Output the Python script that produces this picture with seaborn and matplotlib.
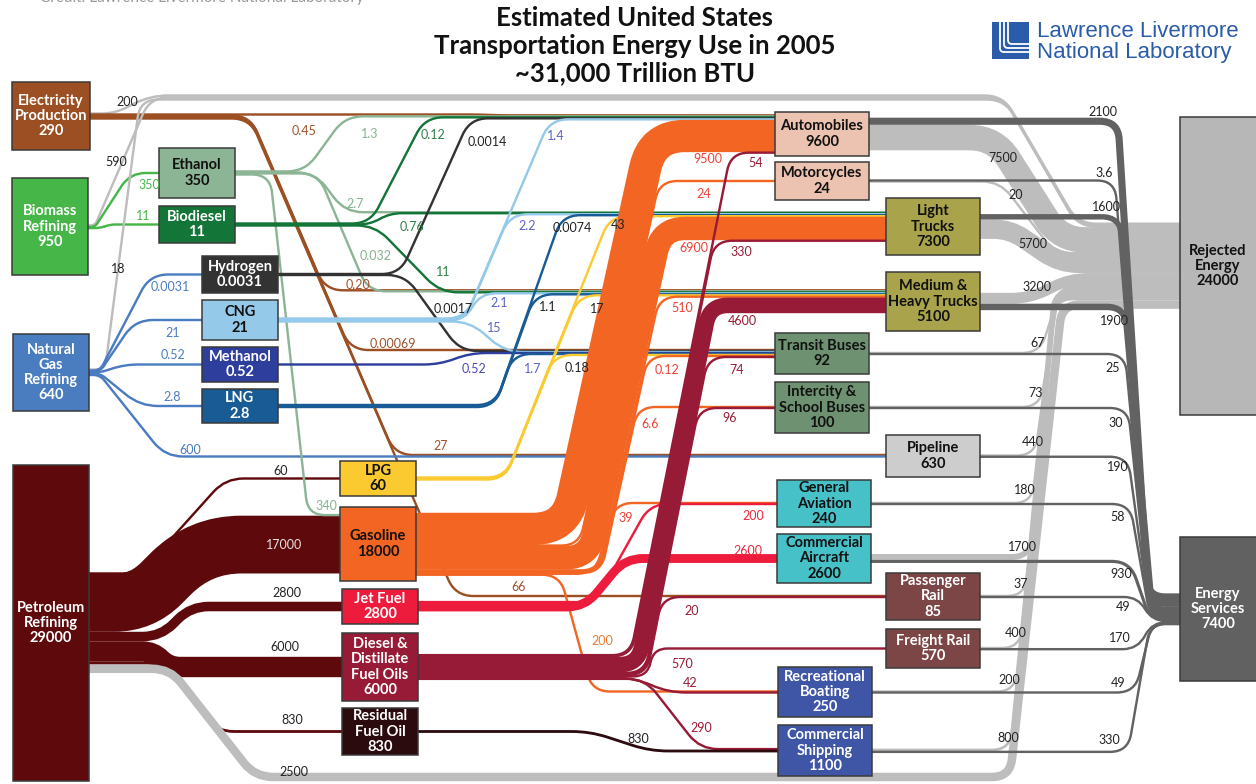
import numpy as np
import matplotlib
matplotlib.use("Agg")
import matplotlib.pyplot as plt
from matplotlib.path import Path
from matplotlib.patches import PathPatch, Rectangle
import seaborn as sns

# Plot setup
sns.set_theme(style="white")
plt.rcParams['font.family'] = ['Lato', 'DejaVu Sans']

# ------------------------------------------------------------------
# Data: energy flows in trillion BTU (LLNL transportation chart 2005)
# ------------------------------------------------------------------
node_keys = ["elec", "bio", "ng", "pet", "eth", "biod", "h2", "cng", "meoh", "lng",
             "lpg", "gas", "jet", "dsl", "res", "auto", "moto", "lt", "mht", "tbus",
             "ibus", "pipe", "ga", "ca", "prail", "frail", "boat", "ship", "rej", "serv"]
node_names = ["Electricity\nProduction", "Biomass\nRefining", "Natural\nGas\nRefining",
              "Petroleum\nRefining", "Ethanol", "Biodiesel", "Hydrogen", "CNG", "Methanol",
              "LNG", "LPG", "Gasoline", "Jet Fuel", "Diesel &\nDistillate\nFuel Oils",
              "Residual\nFuel Oil", "Automobiles", "Motorcycles", "Light\nTrucks",
              "Medium &\nHeavy Trucks", "Transit Buses", "Intercity &\nSchool Buses",
              "Pipeline", "General\nAviation", "Commercial\nAircraft", "Passenger\nRail",
              "Freight Rail", "Recreational\nBoating", "Commercial\nShipping",
              "Rejected\nEnergy", "Energy\nServices"]
node_values = ["290", "950", "640", "29000", "350", "11", "0.0031", "21", "0.52", "2.8",
               "60", "18000", "2800", "6000", "830", "9600", "24", "7300", "5100", "92",
               "100", "630", "240", "2600", "85", "570", "250", "1100", "24000", "7400"]

# flows leaving each node: (target, amount)
flows_elec = [("rej", "200"), ("auto", "0.45"), ("mht", "0.20"), ("tbus", "0.00069"),
              ("pipe", "27"), ("prail", "66")]
flows_bio = [("rej", "590"), ("eth", "350"), ("biod", "11")]
flows_ng = [("rej", "18"), ("h2", "0.0031"), ("cng", "21"), ("meoh", "0.52"),
            ("lng", "2.8"), ("pipe", "600")]
flows_pet = [("lpg", "60"), ("gas", "17000"), ("jet", "2800"), ("dsl", "6000"),
             ("res", "830"), ("rej", "2500")]
flows_eth = [("auto", "1.3"), ("lt", "2.7"), ("mht", "0.032"), ("gas", "340")]
flows_biod = [("auto", "0.12"), ("lt", "0.76"), ("mht", "11")]
flows_h2 = [("auto", "0.0014"), ("tbus", "0.0017")]
flows_cng = [("auto", "1.4"), ("lt", "2.2"), ("mht", "2.1"), ("tbus", "15")]
flows_meoh = [("tbus", "0.52")]
flows_lng = [("lt", "0.0074"), ("mht", "1.1"), ("tbus", "1.7")]
flows_lpg = [("lt", "43"), ("mht", "17"), ("tbus", "0.18")]
flows_gas = [("auto", "9500"), ("moto", "24"), ("lt", "6900"), ("mht", "510"),
             ("tbus", "0.12"), ("ibus", "6.6"), ("ga", "39"), ("boat", "200")]
flows_jet = [("ga", "200"), ("ca", "2600")]
flows_dsl = [("auto", "54"), ("lt", "330"), ("mht", "4600"), ("tbus", "74"), ("ibus", "96"),
             ("prail", "20"), ("frail", "570"), ("boat", "42"), ("ship", "290")]
flows_res = [("ship", "830")]
flows_auto = [("serv", "2100"), ("rej", "7500")]
flows_moto = [("serv", "3.6"), ("rej", "20")]
flows_lt = [("serv", "1600"), ("rej", "5700")]
flows_mht = [("rej", "3200"), ("serv", "1900")]
flows_tbus = [("rej", "67"), ("serv", "25")]
flows_ibus = [("rej", "73"), ("serv", "30")]
flows_pipe = [("rej", "440"), ("serv", "190")]
flows_ga = [("rej", "180"), ("serv", "58")]
flows_ca = [("rej", "1700"), ("serv", "930")]
flows_prail = [("rej", "37"), ("serv", "49")]
flows_frail = [("rej", "400"), ("serv", "170")]
flows_boat = [("rej", "200"), ("serv", "49")]
flows_ship = [("rej", "800"), ("serv", "330")]

flows = {"elec": flows_elec, "bio": flows_bio, "ng": flows_ng, "pet": flows_pet,
         "eth": flows_eth, "biod": flows_biod, "h2": flows_h2, "cng": flows_cng,
         "meoh": flows_meoh, "lng": flows_lng, "lpg": flows_lpg, "gas": flows_gas,
         "jet": flows_jet, "dsl": flows_dsl, "res": flows_res, "auto": flows_auto,
         "moto": flows_moto, "lt": flows_lt, "mht": flows_mht, "tbus": flows_tbus,
         "ibus": flows_ibus, "pipe": flows_pipe, "ga": flows_ga, "ca": flows_ca,
         "prail": flows_prail, "frail": flows_frail, "boat": flows_boat, "ship": flows_ship}

# ------------------------------------------------------------------
# Layout (pixel space, y pointing down)
# ------------------------------------------------------------------
box = {"elec": (12, 82, 90, 150), "bio": (12, 178, 88, 275), "ng": (13, 334, 89, 411),
       "pet": (13, 465, 89, 781), "eth": (159, 148, 235, 198), "biod": (159, 206, 235, 243),
       "h2": (202, 256, 278, 293), "cng": (202, 300, 278, 340), "meoh": (202, 347, 278, 382),
       "lng": (202, 389, 278, 423), "lpg": (340, 461, 416, 496), "gas": (340, 507, 416, 581),
       "jet": (342, 589, 418, 624), "dsl": (342, 633, 418, 701), "res": (342, 708, 418, 755),
       "auto": (775, 112, 869, 156), "moto": (775, 162, 869, 200), "lt": (886, 198, 980, 255),
       "mht": (886, 272, 980, 331), "tbus": (775, 333, 869, 374), "ibus": (775, 382, 869, 433),
       "pipe": (886, 435, 980, 477), "ga": (777, 480, 871, 527), "ca": (777, 534, 871, 583),
       "prail": (886, 573, 980, 620), "frail": (886, 629, 980, 668),
       "boat": (778, 667, 872, 717), "ship": (778, 725, 872, 776),
       "rej": (1180, 117, 1262, 415), "serv": (1180, 537, 1262, 681)}

node_color = dict(elec='#9b4f23', bio='#46b648', ng='#4a7cc0', pet='#5e0a0d', eth='#8cb596',
                  biod='#137538', h2='#333333', cng='#95c9e9', meoh='#2e3e9c', lng='#185b95',
                  lpg='#fbca30', gas='#f26522', jet='#ed1c3d', dsl='#971b36', res='#2b0b0e',
                  auto='#ecc3b1', moto='#ecc3b1', lt='#a9a34b', mht='#a9a34b', tbus='#6e9271',
                  ibus='#6e9271', pipe='#cdcdcd', ga='#46c1c7', ca='#46c1c7', prail='#7c4646',
                  frail='#7c4646', boat='#3f55a6', ship='#3f55a6', rej='#b7b7b7', serv='#616161')
dark_text = {"eth", "cng", "lpg", "gas", "auto", "moto", "lt", "mht", "tbus", "ibus",
             "pipe", "ga", "ca", "rej"}

label_color = dict(elec='#a0522d', bio='#47b749', ng='#4a7cc0', pet='#222222', eth='#86b391',
                   biod='#2f8048', h2='#222222', cng='#5a63c6', meoh='#4a4ab0', lng='#222222',
                   lpg='#222222', gas='#ef4136', jet='#e8283c', dsl='#9a1b35', res='#222222')

# routes: (xa, xb) direct, (xa, xb, via) with waypoints, ("k", xa, slope), ("b", X0, slope) bundle
top_lane = lambda y: [(150, y), (1003, y)]
routes = {
    ("elec", "rej"): (115, 1078, top_lane(95.5)), ("elec", "auto"): (480, 500),
    ("elec", "mht"): ("k", 250, 0.43), ("elec", "tbus"): ("k", 250, 0.43),
    ("elec", "pipe"): ("k", 250, 0.43), ("elec", "prail"): ("k", 250, 0.43),
    ("bio", "rej"): (95, 1078, top_lane(97.5)), ("bio", "eth"): (95, 130), ("bio", "biod"): (100, 110),
    ("ng", "rej"): (105, 1078, [(140, 99.5), (1005, 99.5)]), ("ng", "h2"): (100, 150),
    ("ng", "cng"): (100, 135), ("ng", "meoh"): (100, 125), ("ng", "lng"): (100, 140),
    ("ng", "pipe"): (100, 165),
    ("pet", "lpg"): ("k", 140, 0.9), ("pet", "gas"): ("b", 150, 1.0), ("pet", "jet"): ("b", 155, 1.0),
    ("pet", "dsl"): ("b", 165, 1.0), ("pet", "res"): (165, 216),
    ("pet", "rej"): (170, 1062, [(255, 777), (1010, 777)]),
    ("eth", "auto"): (305, 345), ("eth", "lt"): (315, 345), ("eth", "mht"): (318, 368),
    ("eth", "gas"): (270, 308),
    ("biod", "auto"): (370, 425), ("biod", "lt"): (370, 390), ("biod", "mht"): (375, 440),
    ("h2", "auto"): (400, 470), ("h2", "tbus"): (405, 460),
    ("cng", "auto"): (465, 550), ("cng", "lt"): (465, 510), ("cng", "mht"): (465, 480),
    ("cng", "tbus"): (470, 505), ("meoh", "tbus"): (440, 470),
    ("lng", "lt"): (495, 562), ("lng", "mht"): (495, 535), ("lng", "tbus"): (495, 513),
    ("lpg", "lt"): (505, 610), ("lpg", "mht"): (505, 579), ("lpg", "tbus"): (505, 554),
    ("gas", "auto"): ("b", 578, 0.22), ("gas", "moto"): ("b", 578, 0.22),
    ("gas", "lt"): ("b", 578, 0.22), ("gas", "mht"): ("b", 578, 0.22),
    ("gas", "tbus"): ("b", 578, 0.22), ("gas", "ibus"): ("b", 578, 0.22),
    ("gas", "ga"): (595, 615), ("gas", "boat"): (560, 592),
    ("jet", "ga"): (595, 650), ("jet", "ca"): (585, 625),
    ("dsl", "auto"): ("b", 640, 0.2), ("dsl", "lt"): ("b", 640, 0.2), ("dsl", "mht"): ("b", 640, 0.2),
    ("dsl", "tbus"): ("b", 640, 0.2), ("dsl", "ibus"): ("b", 640, 0.2),
    ("dsl", "prail"): ("b", 640, 0.2), ("dsl", "frail"): ("b", 640, 0.2),
    ("dsl", "boat"): (635, 668), ("dsl", "ship"): (645, 700),
    ("res", "ship"): (590, 650),
    ("auto", "serv"): (1118, 1148), ("auto", "rej"): (995, 1060),
    ("moto", "serv"): (1115, 1148), ("moto", "rej"): (1000, 1055),
    ("lt", "serv"): (1120, 1150), ("lt", "rej"): (1010, 1060),
    ("mht", "rej"): (1030, 1070), ("mht", "serv"): (1125, 1152),
    ("tbus", "rej"): (1040, 1062), ("tbus", "serv"): (1125, 1150),
    ("ibus", "rej"): (1040, 1060), ("ibus", "serv"): (1128, 1150),
    ("pipe", "rej"): (1035, 1058), ("pipe", "serv"): (1128, 1150),
    ("ga", "rej"): (1032, 1056), ("ga", "serv"): (1130, 1150),
    ("ca", "rej"): (1030, 1055), ("ca", "serv"): (1130, 1150),
    ("prail", "rej"): (1025, 1055), ("prail", "serv"): (1138, 1152),
    ("frail", "rej"): (1020, 1055), ("frail", "serv"): (1138, 1152),
    ("boat", "rej"): (1015, 1055), ("boat", "serv"): (1135, 1152),
    ("ship", "rej"): (1010, 1055), ("ship", "serv"): (1128, 1150),
}

label_pos = {
    ("elec", "rej"): (127, 102), ("elec", "auto"): (304, 131), ("elec", "mht"): (358, 285),
    ("elec", "tbus"): (393, 344), ("elec", "pipe"): (441, 446), ("elec", "prail"): (519, 587),
    ("bio", "rej"): (116, 162), ("bio", "eth"): (149, 185), ("bio", "biod"): (143, 216),
    ("ng", "rej"): (118, 269), ("ng", "h2"): (170, 287), ("ng", "cng"): (173, 333),
    ("ng", "meoh"): (173, 355), ("ng", "lng"): (172, 397), ("ng", "pipe"): (190, 450),
    ("pet", "lpg"): (281, 471), ("pet", "gas"): (284, 545), ("pet", "jet"): (287, 593),
    ("pet", "dsl"): (285, 647), ("pet", "res"): (292, 720), ("pet", "rej"): (294, 772),
    ("eth", "auto"): (370, 134), ("eth", "lt"): (355, 204), ("eth", "mht"): (376, 256),
    ("eth", "gas"): (326, 506),
    ("biod", "auto"): (433, 135), ("biod", "lt"): (412, 227), ("biod", "mht"): (443, 272),
    ("h2", "auto"): (487, 142), ("h2", "tbus"): (453, 309),
    ("cng", "auto"): (556, 136), ("cng", "lt"): (527, 226), ("cng", "mht"): (499, 303),
    ("cng", "tbus"): (494, 328), ("meoh", "tbus"): (474, 369),
    ("lng", "lt"): (572, 228), ("lng", "mht"): (548, 307), ("lng", "tbus"): (533, 369),
    ("lpg", "lt"): (618, 225), ("lpg", "mht"): (597, 309), ("lpg", "tbus"): (577, 368),
    ("gas", "auto"): (708, 159), ("gas", "moto"): (704, 194), ("gas", "lt"): (694, 248),
    ("gas", "mht"): (682, 308), ("gas", "tbus"): (667, 370), ("gas", "ibus"): (650, 424),
    ("gas", "ga"): (626, 518), ("gas", "boat"): (602, 641),
    ("jet", "ga"): (753, 516), ("jet", "ca"): (748, 551),
    ("dsl", "auto"): (756, 163), ("dsl", "lt"): (741, 252), ("dsl", "mht"): (742, 321),
    ("dsl", "tbus"): (737, 370), ("dsl", "ibus"): (730, 418), ("dsl", "prail"): (692, 611),
    ("dsl", "frail"): (682, 664), ("dsl", "boat"): (690, 683), ("dsl", "ship"): (701, 728),
    ("res", "ship"): (638, 739),
    ("auto", "serv"): (1103, 112), ("auto", "rej"): (1003, 158),
    ("moto", "serv"): (1104, 173), ("moto", "rej"): (1016, 195),
    ("lt", "serv"): (1106, 207), ("lt", "rej"): (1033, 244),
    ("mht", "rej"): (1037, 287), ("mht", "serv"): (1114, 321),
    ("tbus", "rej"): (1038, 343), ("tbus", "serv"): (1113, 368),
    ("ibus", "rej"): (1036, 393), ("ibus", "serv"): (1116, 423),
    ("pipe", "rej"): (1033, 442), ("pipe", "serv"): (1118, 467),
    ("ga", "rej"): (1025, 490), ("ga", "serv"): (1118, 517),
    ("ca", "rej"): (1022, 547), ("ca", "serv"): (1121, 574),
    ("prail", "rej"): (1021, 584), ("prail", "serv"): (1123, 607),
    ("frail", "rej"): (1016, 633), ("frail", "serv"): (1120, 638),
    ("boat", "rej"): (1009, 680), ("boat", "serv"): (1118, 683),
    ("ship", "rej"): (1008, 738), ("ship", "serv"): (1109, 740),
}
label_override = {("lng", "tbus"): '#5a63c6', ("gas", "boat"): '#f07a30',
                  ("pet", "gas"): '#e8e0e0'}

SCALE = 0.0034     # px per trillion BTU


def thick(v):
    return max(v * SCALE, 2.4)


def step(v):
    return max(v * SCALE, 1.0)


def cy(k):
    b = box[k]
    return (b[1] + b[3]) / 2


# Build link list
links = []
for src, lst in flows.items():
    for dst, amt in lst:
        links.append(dict(src=src, dst=dst, txt=amt, v=float(amt)))

# Stack outflows on the source side
for src in flows:
    out = [l for l in links if l['src'] == src]
    y = cy(src) - sum(step(l['v']) for l in out) / 2
    for l in out:
        l['y0'] = y + step(l['v']) / 2
        y += step(l['v'])


def in_key(l):
    r = routes[(l['src'], l['dst'])]
    if len(r) == 3 and isinstance(r[2], list):
        return r[2][-1][1]
    return cy(l['src'])


# Stack inflows on the target side
for dst in node_keys:
    inc = sorted([l for l in links if l['dst'] == dst], key=in_key)
    if not inc:
        continue
    y = cy(dst) - sum(step(l['v']) for l in inc) / 2
    for l in inc:
        l['y1'] = y + step(l['v']) / 2
        y += step(l['v'])


def link_points(l):
    x0 = box[l['src']][2] - 2
    x1 = box[l['dst']][0] + 2
    y0, y1 = l['y0'], l['y1']
    r = routes[(l['src'], l['dst'])]
    via = []
    if r[0] == 'k':
        xa = r[1]
        xb = xa + r[2] * abs(y1 - y0)
    elif r[0] == 'b':
        X0, k = r[1], r[2]
        yc = cy(l['src'])
        n = np.hypot(1, k)
        s = y0 - yc
        if y1 < y0:
            xa = X0 + s * (n - k)
            xb = X0 + k * (yc - y1) + s * n
        else:
            xa = X0 - s * (n - k)
            xb = X0 + k * (y1 - yc) - s * n
    else:
        xa, xb = r[0], r[1]
        if len(r) == 3:
            via = r[2]
    return [(x0, y0), (xa, y0)] + via + [(xb, y1), (x1, y1)]


def rounded_path(pts, rad):
    pts = [np.array(p, dtype=float) for p in pts]
    verts = [tuple(pts[0])]
    codes = [Path.MOVETO]
    for i in range(1, len(pts) - 1):
        p_in = pts[i] - pts[i - 1]
        p_out = pts[i + 1] - pts[i]
        l_in, l_out = np.hypot(*p_in), np.hypot(*p_out)
        if l_in < 1e-6 or l_out < 1e-6:
            continue
        d = min(rad, l_in / 2, l_out / 2)
        a = pts[i] - p_in / l_in * d
        b = pts[i] + p_out / l_out * d
        verts += [tuple(a), tuple(pts[i]), tuple(b)]
        codes += [Path.LINETO, Path.CURVE3, Path.CURVE3]
    verts.append(tuple(pts[-1]))
    codes.append(Path.LINETO)
    return Path(verts, codes)


# ------------------------------------------------------------------
# Draw
# ------------------------------------------------------------------
fig = plt.figure(figsize=(12.56, 7.84), dpi=100)
ax = fig.add_axes([0, 0, 1, 1])
ax.set_xlim(0, 1256)
ax.set_ylim(784, 0)
ax.axis('off')

for i, l in enumerate(links):
    w = thick(l['v'])
    if l['dst'] == 'rej':
        col, z = '#bdbdbd', 2 + i * 0.001
    elif l['dst'] == 'serv':
        col, z = '#626262', 3 + i * 0.001
    else:
        col, z = node_color[l['src']], 2 + i * 0.001
    path = rounded_path(link_points(l), max(18, 1.0 * w))
    ax.add_patch(PathPatch(path, facecolor='none', edgecolor=col, lw=w * 0.72,
                           capstyle='butt', joinstyle='round', zorder=z))
    key = (l['src'], l['dst'])
    tcol = label_override.get(key, label_color.get(l['src'], '#222222'))
    if l['dst'] == 'rej' and l['src'] in ('elec', 'bio', 'ng', 'pet'):
        tcol = '#222222'
    lx, ly = label_pos[key]
    ax.text(lx, ly, l['txt'], color=tcol, fontsize=9, ha='center', va='center', zorder=8)

# Nodes
for k, name, val in zip(node_keys, node_names, node_values):
    l, t, r, b = box[k]
    ax.add_patch(Rectangle((l, t), r - l, b - t, facecolor=node_color[k],
                           edgecolor='#3a3a3a', lw=1.1, zorder=5))
    tx = (l + min(r, 1256)) / 2
    ax.text(tx, (t + b) / 2, name + "\n" + val, fontsize=10.5, fontweight='bold',
            color='#111111' if k in dark_text else 'white', ha='center', va='center',
            linespacing=1.12, zorder=6)

# Title
for y, line in zip([18, 46, 73], ["Estimated United States",
                                   "Transportation Energy Use in 2005",
                                   "~31,000 Trillion BTU"]):
    ax.text(635, y, line, fontsize=18.5, fontweight='bold', color='#111111',
            ha='center', va='center')

# Credit line (cut at the top like the source image)
ax.text(40, -2, "Credit: Lawrence Livermore National Laboratory", fontsize=11,
        color='#9a9a9a', ha='left', va='center')

# LLNL logo
logo_blue = '#2a5caa'
ax.add_patch(Rectangle((992, 22), 37, 37, facecolor=logo_blue, edgecolor='none', zorder=5))
for off in [8, 12, 16]:
    lp = rounded_path([(992 + off, 22), (992 + off, 60 - off), (1029, 60 - off)], 4)
    ax.add_patch(PathPatch(lp, facecolor='none', edgecolor='white', lw=1.3, zorder=6))
ax.text(1037, 31, "Lawrence Livermore", fontsize=16, color=logo_blue,
        family=['Liberation Sans', 'DejaVu Sans'], ha='left', va='center')
ax.text(1037, 52, "National Laboratory", fontsize=16, color=logo_blue,
        family=['Liberation Sans', 'DejaVu Sans'], ha='left', va='center')

fig.savefig("out.png", dpi=100)
